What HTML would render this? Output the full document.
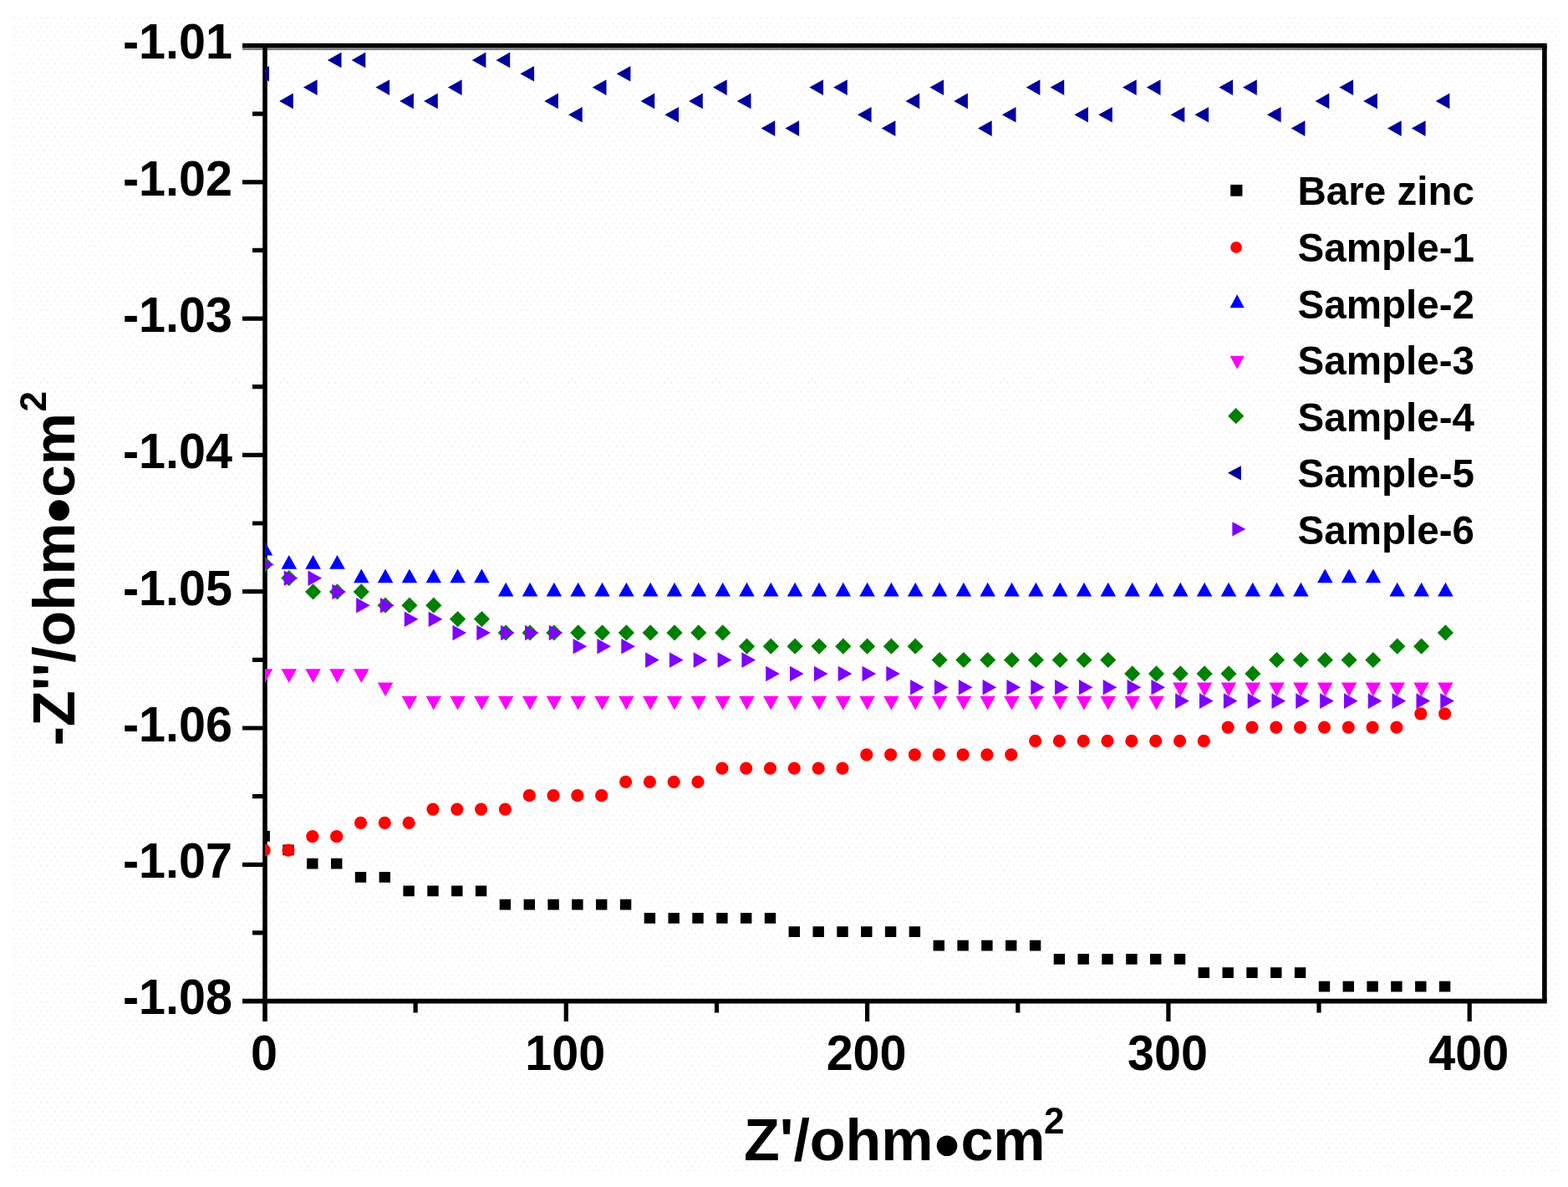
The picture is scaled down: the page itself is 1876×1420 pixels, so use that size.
<!DOCTYPE html>
<html lang="en"><head><meta charset="utf-8"><title>Nyquist plot</title>
<style>
html,body{margin:0;padding:0;background:#fff;}
body{width:1876px;height:1420px;overflow:hidden;}
svg{display:block;}
text{font-family:"Liberation Sans",Arial,Helvetica,sans-serif;font-weight:bold;fill:#000;}
.tick{font-size:59px;}
.title{font-size:70px;}
.sup{font-size:44px;}
.bul{font-size:86px;}
.leg{font-size:48.4px;}
</style></head><body>
<svg width="1876" height="1420" viewBox="0 0 1876 1420">
<defs>
<clipPath id="plot"><rect x="317" y="54.5" width="1530.9" height="1143.1"/></clipPath>
<pattern id="dots" x="14" y="20" width="8.2" height="10.9" patternUnits="userSpaceOnUse"><rect x="0.6" y="0.4" width="2.7" height="2.7" fill="#f6f2f6"/><rect x="4.7" y="5.85" width="2.7" height="2.7" fill="#f6f6f6"/></pattern>
</defs>
<rect x="0" y="0" width="1876" height="1420" fill="#ffffff"/>
<rect x="14" y="20" width="1854" height="1382" fill="url(#dots)"/>
<g stroke="#000" stroke-width="5.6" fill="none" stroke-linecap="butt">
<path d="M290 58.6H1850.7" stroke="#7b8181" stroke-width="2.6"/>
<path d="M290 54.5H1850.7"/>
<path d="M290 1197.6H1850.7"/>
<path d="M317 54.5V1222.1"/>
<path d="M1847.9 54.5V1197.6"/>
<path stroke-width="5.2" d="M290 217.8H317M290 381.1H317M290 544.4H317M290 707.7H317M290 871H317M290 1034.3H317M302 136.1H317M302 299.4H317M302 462.7H317M302 626H317M302 789.3H317M302 952.6H317M302 1115.9H317M677.3 1197.6V1222.1M1037.6 1197.6V1222.1M1397.9 1197.6V1222.1M1758.2 1197.6V1222.1M497.1 1197.6V1211.6M857.5 1197.6V1211.6M1217.8 1197.6V1211.6M1578 1197.6V1211.6"/>
</g>
<g class="tick" text-anchor="end">
<text transform="translate(278 70.3) scale(0.975 1)">-1.01</text>
<text transform="translate(278 233.6) scale(0.975 1)">-1.02</text>
<text transform="translate(278 396.9) scale(0.975 1)">-1.03</text>
<text transform="translate(278 560.2) scale(0.975 1)">-1.04</text>
<text transform="translate(278 723.5) scale(0.975 1)">-1.05</text>
<text transform="translate(278 886.8) scale(0.975 1)">-1.06</text>
<text transform="translate(278 1050.1) scale(0.975 1)">-1.07</text>
<text transform="translate(278 1213.4) scale(0.975 1)">-1.08</text>
</g>
<g class="tick" text-anchor="middle">
<text transform="translate(316 1279.8) scale(0.975 1)">0</text>
<text transform="translate(676.3 1279.8) scale(0.975 1)">100</text>
<text transform="translate(1036.6 1279.8) scale(0.975 1)">200</text>
<text transform="translate(1396.9 1279.8) scale(0.975 1)">300</text>
<text transform="translate(1757.2 1279.8) scale(0.975 1)">400</text>
</g>
<text class="title" transform="translate(890 1388.4)"><tspan x="0" y="0">Z'/ohm</tspan><tspan class="bul" x="228" y="10.8">•</tspan><tspan x="259.4" y="0">cm</tspan><tspan class="sup" x="359" y="-32.4">2</tspan></text>
<text class="title" transform="translate(89.2 892.2) rotate(-90)"><tspan x="0" y="0">-Z''/ohm</tspan><tspan class="bul" x="266.7" y="9.9">•</tspan><tspan x="297.1" y="0">cm</tspan><tspan class="sup" x="399.7" y="-33.8">2</tspan></text>
<g clip-path="url(#plot)">
<path fill="#000000" d="M309.5 994h13.4v12.8h-13.4zM338.3 1010.4h13.4v12.8h-13.4zM367.1 1026.7h13.4v12.8h-13.4zM396 1026.7h13.4v12.8h-13.4zM424.8 1043h13.4v12.8h-13.4zM453.6 1043h13.4v12.8h-13.4zM482.4 1059.4h13.4v12.8h-13.4zM511.3 1059.4h13.4v12.8h-13.4zM540.1 1059.4h13.4v12.8h-13.4zM568.9 1059.4h13.4v12.8h-13.4zM597.7 1075.7h13.4v12.8h-13.4zM626.6 1075.7h13.4v12.8h-13.4zM655.4 1075.7h13.4v12.8h-13.4zM684.2 1075.7h13.4v12.8h-13.4zM713 1075.7h13.4v12.8h-13.4zM741.9 1075.7h13.4v12.8h-13.4zM770.7 1092h13.4v12.8h-13.4zM799.5 1092h13.4v12.8h-13.4zM828.3 1092h13.4v12.8h-13.4zM857.2 1092h13.4v12.8h-13.4zM886 1092h13.4v12.8h-13.4zM914.8 1092h13.4v12.8h-13.4zM943.6 1108.3h13.4v12.8h-13.4zM972.5 1108.3h13.4v12.8h-13.4zM1001.3 1108.3h13.4v12.8h-13.4zM1030.1 1108.3h13.4v12.8h-13.4zM1058.9 1108.3h13.4v12.8h-13.4zM1087.7 1108.3h13.4v12.8h-13.4zM1116.6 1124.7h13.4v12.8h-13.4zM1145.4 1124.7h13.4v12.8h-13.4zM1174.2 1124.7h13.4v12.8h-13.4zM1203 1124.7h13.4v12.8h-13.4zM1231.9 1124.7h13.4v12.8h-13.4zM1260.7 1141h13.4v12.8h-13.4zM1289.5 1141h13.4v12.8h-13.4zM1318.3 1141h13.4v12.8h-13.4zM1347.2 1141h13.4v12.8h-13.4zM1376 1141h13.4v12.8h-13.4zM1404.8 1141h13.4v12.8h-13.4zM1433.6 1157.3h13.4v12.8h-13.4zM1462.5 1157.3h13.4v12.8h-13.4zM1491.3 1157.3h13.4v12.8h-13.4zM1520.1 1157.3h13.4v12.8h-13.4zM1548.9 1157.3h13.4v12.8h-13.4zM1577.8 1173.7h13.4v12.8h-13.4zM1606.6 1173.7h13.4v12.8h-13.4zM1635.4 1173.7h13.4v12.8h-13.4zM1664.2 1173.7h13.4v12.8h-13.4zM1693.1 1173.7h13.4v12.8h-13.4zM1721.9 1173.7h13.4v12.8h-13.4z"/>
<g fill="#ff0000">
<circle cx="316.2" cy="1017.1" r="7.6"/>
<circle cx="345" cy="1017.1" r="7.6"/>
<circle cx="373.8" cy="1000.7" r="7.6"/>
<circle cx="402.7" cy="1000.7" r="7.6"/>
<circle cx="431.5" cy="984.4" r="7.6"/>
<circle cx="460.3" cy="984.4" r="7.6"/>
<circle cx="489.1" cy="984.4" r="7.6"/>
<circle cx="518" cy="968.1" r="7.6"/>
<circle cx="546.8" cy="968.1" r="7.6"/>
<circle cx="575.6" cy="968.1" r="7.6"/>
<circle cx="604.4" cy="968.1" r="7.6"/>
<circle cx="633.3" cy="951.7" r="7.6"/>
<circle cx="662.1" cy="951.7" r="7.6"/>
<circle cx="690.9" cy="951.7" r="7.6"/>
<circle cx="719.7" cy="951.7" r="7.6"/>
<circle cx="748.6" cy="935.4" r="7.6"/>
<circle cx="777.4" cy="935.4" r="7.6"/>
<circle cx="806.2" cy="935.4" r="7.6"/>
<circle cx="835" cy="935.4" r="7.6"/>
<circle cx="863.9" cy="919.1" r="7.6"/>
<circle cx="892.7" cy="919.1" r="7.6"/>
<circle cx="921.5" cy="919.1" r="7.6"/>
<circle cx="950.3" cy="919.1" r="7.6"/>
<circle cx="979.2" cy="919.1" r="7.6"/>
<circle cx="1008" cy="919.1" r="7.6"/>
<circle cx="1036.8" cy="902.8" r="7.6"/>
<circle cx="1065.6" cy="902.8" r="7.6"/>
<circle cx="1094.4" cy="902.8" r="7.6"/>
<circle cx="1123.3" cy="902.8" r="7.6"/>
<circle cx="1152.1" cy="902.8" r="7.6"/>
<circle cx="1180.9" cy="902.8" r="7.6"/>
<circle cx="1209.7" cy="902.8" r="7.6"/>
<circle cx="1238.6" cy="886.4" r="7.6"/>
<circle cx="1267.4" cy="886.4" r="7.6"/>
<circle cx="1296.2" cy="886.4" r="7.6"/>
<circle cx="1325" cy="886.4" r="7.6"/>
<circle cx="1353.9" cy="886.4" r="7.6"/>
<circle cx="1382.7" cy="886.4" r="7.6"/>
<circle cx="1411.5" cy="886.4" r="7.6"/>
<circle cx="1440.3" cy="886.4" r="7.6"/>
<circle cx="1469.2" cy="870.1" r="7.6"/>
<circle cx="1498" cy="870.1" r="7.6"/>
<circle cx="1526.8" cy="870.1" r="7.6"/>
<circle cx="1555.6" cy="870.1" r="7.6"/>
<circle cx="1584.5" cy="870.1" r="7.6"/>
<circle cx="1613.3" cy="870.1" r="7.6"/>
<circle cx="1642.1" cy="870.1" r="7.6"/>
<circle cx="1670.9" cy="870.1" r="7.6"/>
<circle cx="1699.8" cy="853.8" r="7.6"/>
<circle cx="1728.6" cy="853.8" r="7.6"/>
</g>
<path fill="#0000ff" d="M317 647.8L326.3 664.5L307.7 664.5zM345.8 664.1L355.1 680.8L336.5 680.8zM374.6 664.1L383.9 680.8L365.3 680.8zM403.5 664.1L412.8 680.8L394.2 680.8zM432.3 680.5L441.6 697.2L423 697.2zM461.1 680.5L470.4 697.2L451.8 697.2zM489.9 680.5L499.2 697.2L480.6 697.2zM518.8 680.5L528.1 697.2L509.5 697.2zM547.6 680.5L556.9 697.2L538.3 697.2zM576.4 680.5L585.7 697.2L567.1 697.2zM605.2 696.8L614.5 713.5L595.9 713.5zM634.1 696.8L643.4 713.5L624.8 713.5zM662.9 696.8L672.2 713.5L653.6 713.5zM691.7 696.8L701 713.5L682.4 713.5zM720.5 696.8L729.8 713.5L711.2 713.5zM749.4 696.8L758.7 713.5L740.1 713.5zM778.2 696.8L787.5 713.5L768.9 713.5zM807 696.8L816.3 713.5L797.7 713.5zM835.8 696.8L845.1 713.5L826.5 713.5zM864.7 696.8L874 713.5L855.4 713.5zM893.5 696.8L902.8 713.5L884.2 713.5zM922.3 696.8L931.6 713.5L913 713.5zM951.1 696.8L960.4 713.5L941.8 713.5zM980 696.8L989.3 713.5L970.7 713.5zM1008.8 696.8L1018.1 713.5L999.5 713.5zM1037.6 696.8L1046.9 713.5L1028.3 713.5zM1066.4 696.8L1075.7 713.5L1057.1 713.5zM1095.2 696.8L1104.5 713.5L1085.9 713.5zM1124.1 696.8L1133.4 713.5L1114.8 713.5zM1152.9 696.8L1162.2 713.5L1143.6 713.5zM1181.7 696.8L1191 713.5L1172.4 713.5zM1210.5 696.8L1219.8 713.5L1201.2 713.5zM1239.4 696.8L1248.7 713.5L1230.1 713.5zM1268.2 696.8L1277.5 713.5L1258.9 713.5zM1297 696.8L1306.3 713.5L1287.7 713.5zM1325.8 696.8L1335.1 713.5L1316.5 713.5zM1354.7 696.8L1364 713.5L1345.4 713.5zM1383.5 696.8L1392.8 713.5L1374.2 713.5zM1412.3 696.8L1421.6 713.5L1403 713.5zM1441.1 696.8L1450.4 713.5L1431.8 713.5zM1470 696.8L1479.3 713.5L1460.7 713.5zM1498.8 696.8L1508.1 713.5L1489.5 713.5zM1527.6 696.8L1536.9 713.5L1518.3 713.5zM1556.4 696.8L1565.7 713.5L1547.1 713.5zM1585.3 680.5L1594.6 697.2L1576 697.2zM1614.1 680.5L1623.4 697.2L1604.8 697.2zM1642.9 680.5L1652.2 697.2L1633.6 697.2zM1671.7 696.8L1681 713.5L1662.4 713.5zM1700.6 696.8L1709.9 713.5L1691.3 713.5zM1729.4 696.8L1738.7 713.5L1720.1 713.5z"/>
<path fill="#ff00ff" d="M317 816.9L326.3 800.2L307.7 800.2zM345.8 816.9L355.1 800.2L336.5 800.2zM374.6 816.9L383.9 800.2L365.3 800.2zM403.5 816.9L412.8 800.2L394.2 800.2zM432.3 816.9L441.6 800.2L423 800.2zM461.1 833.2L470.4 816.5L451.8 816.5zM489.9 849.5L499.2 832.8L480.6 832.8zM518.8 849.5L528.1 832.8L509.5 832.8zM547.6 849.5L556.9 832.8L538.3 832.8zM576.4 849.5L585.7 832.8L567.1 832.8zM605.2 849.5L614.5 832.8L595.9 832.8zM634.1 849.5L643.4 832.8L624.8 832.8zM662.9 849.5L672.2 832.8L653.6 832.8zM691.7 849.5L701 832.8L682.4 832.8zM720.5 849.5L729.8 832.8L711.2 832.8zM749.4 849.5L758.7 832.8L740.1 832.8zM778.2 849.5L787.5 832.8L768.9 832.8zM807 849.5L816.3 832.8L797.7 832.8zM835.8 849.5L845.1 832.8L826.5 832.8zM864.7 849.5L874 832.8L855.4 832.8zM893.5 849.5L902.8 832.8L884.2 832.8zM922.3 849.5L931.6 832.8L913 832.8zM951.1 849.5L960.4 832.8L941.8 832.8zM980 849.5L989.3 832.8L970.7 832.8zM1008.8 849.5L1018.1 832.8L999.5 832.8zM1037.6 849.5L1046.9 832.8L1028.3 832.8zM1066.4 849.5L1075.7 832.8L1057.1 832.8zM1095.2 849.5L1104.5 832.8L1085.9 832.8zM1124.1 849.5L1133.4 832.8L1114.8 832.8zM1152.9 849.5L1162.2 832.8L1143.6 832.8zM1181.7 849.5L1191 832.8L1172.4 832.8zM1210.5 849.5L1219.8 832.8L1201.2 832.8zM1239.4 849.5L1248.7 832.8L1230.1 832.8zM1268.2 849.5L1277.5 832.8L1258.9 832.8zM1297 849.5L1306.3 832.8L1287.7 832.8zM1325.8 849.5L1335.1 832.8L1316.5 832.8zM1354.7 849.5L1364 832.8L1345.4 832.8zM1383.5 849.5L1392.8 832.8L1374.2 832.8zM1412.3 833.2L1421.6 816.5L1403 816.5zM1441.1 833.2L1450.4 816.5L1431.8 816.5zM1470 833.2L1479.3 816.5L1460.7 816.5zM1498.8 833.2L1508.1 816.5L1489.5 816.5zM1527.6 833.2L1536.9 816.5L1518.3 816.5zM1556.4 833.2L1565.7 816.5L1547.1 816.5zM1585.3 833.2L1594.6 816.5L1576 816.5zM1614.1 833.2L1623.4 816.5L1604.8 816.5zM1642.9 833.2L1652.2 816.5L1633.6 816.5zM1671.7 833.2L1681 816.5L1662.4 816.5zM1700.6 833.2L1709.9 816.5L1691.3 816.5zM1729.4 833.2L1738.7 816.5L1720.1 816.5z"/>
<path fill="#008000" d="M317 665.6L326.6 675.2L317 684.8L307.4 675.2zM345.8 682L355.4 691.6L345.8 701.2L336.2 691.6zM374.6 698.3L384.2 707.9L374.6 717.5L365 707.9zM403.5 698.3L413.1 707.9L403.5 717.5L393.9 707.9zM432.3 698.3L441.9 707.9L432.3 717.5L422.7 707.9zM461.1 714.6L470.7 724.2L461.1 733.8L451.5 724.2zM489.9 714.6L499.5 724.2L489.9 733.8L480.3 724.2zM518.8 714.6L528.4 724.2L518.8 733.8L509.2 724.2zM547.6 731L557.2 740.6L547.6 750.2L538 740.6zM576.4 731L586 740.6L576.4 750.2L566.8 740.6zM605.2 747.3L614.8 756.9L605.2 766.5L595.6 756.9zM634.1 747.3L643.7 756.9L634.1 766.5L624.5 756.9zM662.9 747.3L672.5 756.9L662.9 766.5L653.3 756.9zM691.7 747.3L701.3 756.9L691.7 766.5L682.1 756.9zM720.5 747.3L730.1 756.9L720.5 766.5L710.9 756.9zM749.4 747.3L759 756.9L749.4 766.5L739.8 756.9zM778.2 747.3L787.8 756.9L778.2 766.5L768.6 756.9zM807 747.3L816.6 756.9L807 766.5L797.4 756.9zM835.8 747.3L845.4 756.9L835.8 766.5L826.2 756.9zM864.7 747.3L874.3 756.9L864.7 766.5L855.1 756.9zM893.5 763.6L903.1 773.2L893.5 782.8L883.9 773.2zM922.3 763.6L931.9 773.2L922.3 782.8L912.7 773.2zM951.1 763.6L960.7 773.2L951.1 782.8L941.5 773.2zM980 763.6L989.6 773.2L980 782.8L970.4 773.2zM1008.8 763.6L1018.4 773.2L1008.8 782.8L999.2 773.2zM1037.6 763.6L1047.2 773.2L1037.6 782.8L1028 773.2zM1066.4 763.6L1076 773.2L1066.4 782.8L1056.8 773.2zM1095.2 763.6L1104.8 773.2L1095.2 782.8L1085.6 773.2zM1124.1 779.9L1133.7 789.5L1124.1 799.1L1114.5 789.5zM1152.9 779.9L1162.5 789.5L1152.9 799.1L1143.3 789.5zM1181.7 779.9L1191.3 789.5L1181.7 799.1L1172.1 789.5zM1210.5 779.9L1220.1 789.5L1210.5 799.1L1200.9 789.5zM1239.4 779.9L1249 789.5L1239.4 799.1L1229.8 789.5zM1268.2 779.9L1277.8 789.5L1268.2 799.1L1258.6 789.5zM1297 779.9L1306.6 789.5L1297 799.1L1287.4 789.5zM1325.8 779.9L1335.4 789.5L1325.8 799.1L1316.2 789.5zM1354.7 796.3L1364.3 805.9L1354.7 815.5L1345.1 805.9zM1383.5 796.3L1393.1 805.9L1383.5 815.5L1373.9 805.9zM1412.3 796.3L1421.9 805.9L1412.3 815.5L1402.7 805.9zM1441.1 796.3L1450.7 805.9L1441.1 815.5L1431.5 805.9zM1470 796.3L1479.6 805.9L1470 815.5L1460.4 805.9zM1498.8 796.3L1508.4 805.9L1498.8 815.5L1489.2 805.9zM1527.6 779.9L1537.2 789.5L1527.6 799.1L1518 789.5zM1556.4 779.9L1566 789.5L1556.4 799.1L1546.8 789.5zM1585.3 779.9L1594.9 789.5L1585.3 799.1L1575.7 789.5zM1614.1 779.9L1623.7 789.5L1614.1 799.1L1604.5 789.5zM1642.9 779.9L1652.5 789.5L1642.9 799.1L1633.3 789.5zM1671.7 763.6L1681.3 773.2L1671.7 782.8L1662.1 773.2zM1700.6 763.6L1710.2 773.2L1700.6 782.8L1691 773.2zM1729.4 747.3L1739 756.9L1729.4 766.5L1719.8 756.9z"/>
<path fill="#00009c" d="M305.3 88.3L322 79L322 97.6zM334.1 120.9L350.8 111.6L350.8 130.2zM362.9 104.6L379.6 95.3L379.6 113.9zM391.8 71.9L408.5 62.6L408.5 81.2zM420.6 71.9L437.3 62.6L437.3 81.2zM449.4 104.6L466.1 95.3L466.1 113.9zM478.2 120.9L494.9 111.6L494.9 130.2zM507.1 120.9L523.8 111.6L523.8 130.2zM535.9 104.6L552.6 95.3L552.6 113.9zM564.7 71.9L581.4 62.6L581.4 81.2zM593.5 71.9L610.2 62.6L610.2 81.2zM622.4 88.3L639.1 79L639.1 97.6zM651.2 120.9L667.9 111.6L667.9 130.2zM680 137.2L696.7 127.9L696.7 146.5zM708.8 104.6L725.5 95.3L725.5 113.9zM737.7 88.3L754.4 79L754.4 97.6zM766.5 120.9L783.2 111.6L783.2 130.2zM795.3 137.2L812 127.9L812 146.5zM824.1 120.9L840.8 111.6L840.8 130.2zM853 104.6L869.7 95.3L869.7 113.9zM881.8 120.9L898.5 111.6L898.5 130.2zM910.6 153.6L927.3 144.3L927.3 162.9zM939.4 153.6L956.1 144.3L956.1 162.9zM968.3 104.6L985 95.3L985 113.9zM997.1 104.6L1013.8 95.3L1013.8 113.9zM1025.9 137.2L1042.6 127.9L1042.6 146.5zM1054.7 153.6L1071.4 144.3L1071.4 162.9zM1083.5 120.9L1100.2 111.6L1100.2 130.2zM1112.4 104.6L1129.1 95.3L1129.1 113.9zM1141.2 120.9L1157.9 111.6L1157.9 130.2zM1170 153.6L1186.7 144.3L1186.7 162.9zM1198.8 137.2L1215.5 127.9L1215.5 146.5zM1227.7 104.6L1244.4 95.3L1244.4 113.9zM1256.5 104.6L1273.2 95.3L1273.2 113.9zM1285.3 137.2L1302 127.9L1302 146.5zM1314.1 137.2L1330.8 127.9L1330.8 146.5zM1343 104.6L1359.7 95.3L1359.7 113.9zM1371.8 104.6L1388.5 95.3L1388.5 113.9zM1400.6 137.2L1417.3 127.9L1417.3 146.5zM1429.4 137.2L1446.1 127.9L1446.1 146.5zM1458.3 104.6L1475 95.3L1475 113.9zM1487.1 104.6L1503.8 95.3L1503.8 113.9zM1515.9 137.2L1532.6 127.9L1532.6 146.5zM1544.7 153.6L1561.4 144.3L1561.4 162.9zM1573.6 120.9L1590.3 111.6L1590.3 130.2zM1602.4 104.6L1619.1 95.3L1619.1 113.9zM1631.2 120.9L1647.9 111.6L1647.9 130.2zM1660 153.6L1676.7 144.3L1676.7 162.9zM1688.9 153.6L1705.6 144.3L1705.6 162.9zM1717.7 120.9L1734.4 111.6L1734.4 130.2z"/>
<path fill="#8000ff" d="M327.6 675.3L310.9 666L310.9 684.6zM356.4 691.7L339.7 682.4L339.7 701zM385.2 691.7L368.5 682.4L368.5 701zM414.1 708L397.4 698.7L397.4 717.3zM442.9 724.3L426.2 715L426.2 733.6zM471.7 724.3L455 715L455 733.6zM500.5 740.7L483.8 731.4L483.8 750zM529.4 740.7L512.7 731.4L512.7 750zM558.2 757L541.5 747.7L541.5 766.3zM587 757L570.3 747.7L570.3 766.3zM615.8 757L599.1 747.7L599.1 766.3zM644.7 757L628 747.7L628 766.3zM673.5 757L656.8 747.7L656.8 766.3zM702.3 773.3L685.6 764L685.6 782.6zM731.1 773.3L714.4 764L714.4 782.6zM760 773.3L743.3 764L743.3 782.6zM788.8 789.6L772.1 780.3L772.1 798.9zM817.6 789.6L800.9 780.3L800.9 798.9zM846.4 789.6L829.7 780.3L829.7 798.9zM875.3 789.6L858.6 780.3L858.6 798.9zM904.1 789.6L887.4 780.3L887.4 798.9zM932.9 806L916.2 796.7L916.2 815.3zM961.7 806L945 796.7L945 815.3zM990.6 806L973.9 796.7L973.9 815.3zM1019.4 806L1002.7 796.7L1002.7 815.3zM1048.2 806L1031.5 796.7L1031.5 815.3zM1077 806L1060.3 796.7L1060.3 815.3zM1105.8 822.3L1089.1 813L1089.1 831.6zM1134.7 822.3L1118 813L1118 831.6zM1163.5 822.3L1146.8 813L1146.8 831.6zM1192.3 822.3L1175.6 813L1175.6 831.6zM1221.1 822.3L1204.4 813L1204.4 831.6zM1250 822.3L1233.3 813L1233.3 831.6zM1278.8 822.3L1262.1 813L1262.1 831.6zM1307.6 822.3L1290.9 813L1290.9 831.6zM1336.4 822.3L1319.7 813L1319.7 831.6zM1365.3 822.3L1348.6 813L1348.6 831.6zM1394.1 822.3L1377.4 813L1377.4 831.6zM1422.9 838.6L1406.2 829.3L1406.2 847.9zM1451.7 838.6L1435 829.3L1435 847.9zM1480.6 838.6L1463.9 829.3L1463.9 847.9zM1509.4 838.6L1492.7 829.3L1492.7 847.9zM1538.2 838.6L1521.5 829.3L1521.5 847.9zM1567 838.6L1550.3 829.3L1550.3 847.9zM1595.9 838.6L1579.2 829.3L1579.2 847.9zM1624.7 838.6L1608 829.3L1608 847.9zM1653.5 838.6L1636.8 829.3L1636.8 847.9zM1682.3 838.6L1665.6 829.3L1665.6 847.9zM1711.2 838.6L1694.5 829.3L1694.5 847.9zM1740 838.6L1723.3 829.3L1723.3 847.9z"/>
</g>
<g class="leg">
<path fill="#000000" d="M1472.2 220.9h14.2v13.8h-14.2z"/>
<text transform="translate(1552.5 245.3) scale(0.983 1)">Bare zinc</text>
<circle cx="1479" cy="295.9" r="6.9" fill="#ff0000"/>
<text transform="translate(1552.5 312.9) scale(0.983 1)">Sample-1</text>
<path fill="#0000ff" d="M1480.1 352.2L1488.7 368.2L1471.5 368.2z"/>
<text transform="translate(1552.5 380.5) scale(0.983 1)">Sample-2</text>
<path fill="#ff00ff" d="M1480.1 441.7L1488.7 425.7L1471.5 425.7z"/>
<text transform="translate(1552.5 448.1) scale(0.983 1)">Sample-3</text>
<path fill="#008000" d="M1478.7 488.1L1488.3 497.7L1478.7 507.3L1469.1 497.7z"/>
<text transform="translate(1552.5 515.7) scale(0.983 1)">Sample-4</text>
<path fill="#00009c" d="M1468.9 565.8L1484.9 557.2L1484.9 574.4z"/>
<text transform="translate(1552.5 583.3) scale(0.983 1)">Sample-5</text>
<path fill="#8000ff" d="M1490.4 632.9L1474.4 624.3L1474.4 641.5z"/>
<text transform="translate(1552.5 650.9) scale(0.983 1)">Sample-6</text>
</g>
</svg>
</body></html>
